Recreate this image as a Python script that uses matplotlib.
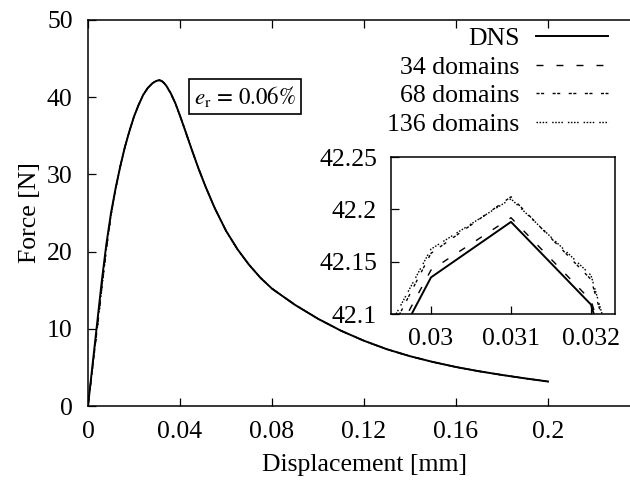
import matplotlib
matplotlib.use('Agg')
from matplotlib import pyplot as plt

# data
disp = [0, 0.002, 0.004, 0.006, 0.008, 0.010, 0.012, 0.014, 0.016, 0.018,
        0.020, 0.022, 0.024, 0.026, 0.028, 0.029, 0.030, 0.031, 0.032, 0.033,
        0.034, 0.036, 0.038, 0.040, 0.042, 0.045, 0.048, 0.051, 0.055, 0.060,
        0.065, 0.070, 0.075, 0.080, 0.090, 0.100, 0.110, 0.120, 0.130, 0.140,
        0.150, 0.160, 0.170, 0.180, 0.190, 0.200]

f_dns = [0, 5.4, 10.8, 16.2, 21.0, 25.0, 28.2, 31.0, 33.5, 35.6,
         37.5, 39.0, 40.3, 41.2, 41.8, 41.99, 42.135, 42.188, 42.109, 41.85,
         41.5, 40.5, 39.2, 37.6, 35.9, 33.3, 30.8, 28.5, 25.7, 22.7,
         20.3, 18.3, 16.6, 15.2, 13.1, 11.3, 9.75, 8.45, 7.35, 6.45,
         5.7, 5.05, 4.5, 4.02, 3.58, 3.17]

f_34 = [0, 5.2, 10.3, 15.6, 20.6, 24.8, 28.1, 31.0, 33.5, 35.6,
        37.5, 39.0, 40.3, 41.2, 41.8, 42.0, 42.142, 42.192, 42.113, 41.86,
        41.5, 40.5, 39.2, 37.6, 35.9, 33.3, 30.8, 28.5, 25.7, 22.7,
        20.3, 18.3, 16.6, 15.2, 13.1, 11.3, 9.75, 8.45, 7.35, 6.45,
        5.7, 5.05, 4.5, 4.02, 3.58, 3.17]

f_68 = [0, 5.0, 10.0, 15.3, 20.4, 24.7, 28.1, 31.0, 33.5, 35.6,
        37.5, 39.0, 40.3, 41.2, 41.81, 42.01, 42.158, 42.212, 42.133, 41.87,
        41.51, 40.5, 39.2, 37.6, 35.9, 33.3, 30.8, 28.5, 25.7, 22.7,
        20.3, 18.3, 16.6, 15.2, 13.1, 11.3, 9.75, 8.45, 7.35, 6.45,
        5.7, 5.05, 4.5, 4.02, 3.58, 3.17]

f_136 = [0, 5.0, 10.0, 15.2, 20.3, 24.7, 28.1, 31.0, 33.5, 35.6,
         37.5, 39.0, 40.3, 41.2, 41.81, 42.02, 42.162, 42.210, 42.137, 41.87,
         41.51, 40.5, 39.2, 37.6, 35.9, 33.3, 30.8, 28.5, 25.7, 22.7,
         20.3, 18.3, 16.6, 15.2, 13.1, 11.3, 9.75, 8.45, 7.35, 6.45,
         5.7, 5.05, 4.5, 4.02, 3.58, 3.17]

labels = ['DNS', '34 domains', '68 domains', '136 domains']

x_ticks = [0, 0.04, 0.08, 0.12, 0.16, 0.2]
x_tick_labels = ['0', '0.04', '0.08', '0.12', '0.16', '0.2']
y_ticks = [0, 10, 20, 30, 40, 50]

ins_x_ticks = [0.030, 0.031, 0.032]
ins_x_tick_labels = ['0.03', '0.031', '0.032']
ins_y_ticks = [42.1, 42.15, 42.2, 42.25]
ins_y_tick_labels = ['42.1', '42.15', '42.2', '42.25']

# style
plt.rcParams['font.family'] = ['Liberation Serif', 'DejaVu Serif']
plt.rcParams['mathtext.fontset'] = 'stix'
plt.rcParams['lines.scale_dashes'] = False
fs = 18.5

styles = [
    dict(color='k', lw=1.4, linestyle='-'),
    dict(color='k', lw=1.0, dashes=(5, 9.4)),
    dict(color='k', lw=1.0, dashes=(2.2, 1.1, 2.2, 6.1)),
    dict(color='k', lw=1.0, dashes=(1.1, 1.1, 1.1, 1.1, 1.1, 1.1, 1.1, 3.6)),
]
series = [f_dns, f_34, f_68, f_136]

fig = plt.figure(figsize=(6.3, 4.9), dpi=100)

# main axes (right edge runs past the figure)
ax = fig.add_axes([88 / 630, 1 - 406 / 490, 552 / 630, 386 / 490])
for f, lab, st in zip(series, labels, styles):
    ax.plot(disp, f, label=lab, **st)

ax.set_xlim(0, 0.24)
ax.set_ylim(0, 50)
ax.set_xticks(x_ticks)
ax.set_xticklabels(x_tick_labels)
ax.set_yticks(y_ticks)
ax.tick_params(direction='in', top=True, right=True, length=6, width=0.9,
               labelsize=fs, pad=11)
for sp in ax.spines.values():
    sp.set_linewidth(1.1)
ax.set_xlabel('Displacement [mm]', fontsize=fs, labelpad=8)
ax.set_ylabel('Force [N]', fontsize=fs, labelpad=4)

ax.text(0.0683, 40.1, r'$e_{\mathrm{r}}\,=\,0.06\%$', fontsize=16.5,
        ha='center', va='center',
        bbox=dict(boxstyle='square,pad=0.22', fc='white', ec='black', lw=1.2))

leg = ax.legend(loc='upper right', bbox_to_anchor=(608 / 630, 1 - 27 / 490),
                bbox_transform=fig.transFigure, frameon=False, fontsize=fs,
                markerfirst=False, handlelength=2.8, handletextpad=0.65,
                labelspacing=0.22, borderpad=0, borderaxespad=0)

# inset
ins = fig.add_axes([391 / 630, 1 - 314 / 490, 224 / 630, 157 / 490])
for f, st in zip(series, styles):
    ins.plot(disp, f, **st)
ins.set_xlim(0.0295, 0.0323)
ins.set_ylim(42.1, 42.25)
ins.set_xticks(ins_x_ticks)
ins.set_xticklabels(ins_x_tick_labels)
ins.set_yticks(ins_y_ticks)
ins.set_yticklabels(ins_y_tick_labels)
ins.tick_params(direction='in', length=6, width=0.9, labelsize=fs, pad=10)
for sp in ins.spines.values():
    sp.set_linewidth(1.1)

fig.savefig('out.png', dpi=100)
